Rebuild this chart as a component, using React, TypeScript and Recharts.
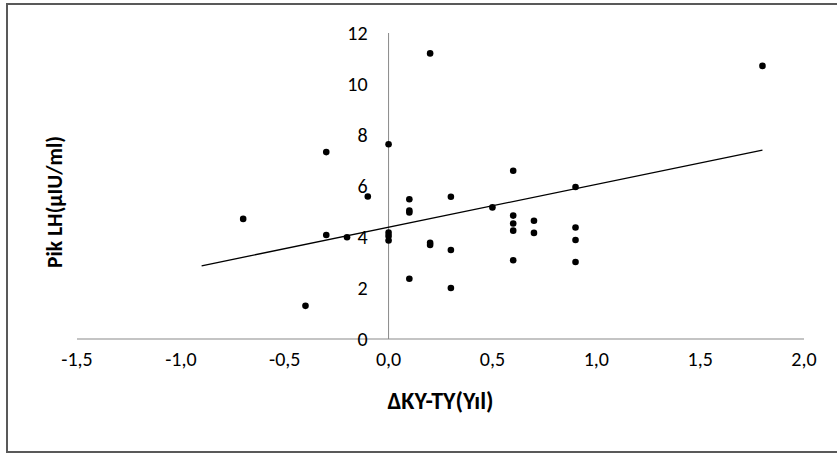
import React from "react"
import {
  ScatterChart,
  Scatter,
  XAxis,
  YAxis,
  ReferenceLine,
  ReferenceDot,
} from "recharts"

// ΔKY-TY (yıl) vs peak LH
const deltaYears = [
  -0.7, -0.4, -0.3, -0.3, -0.2, -0.1, 0, 0, 0, 0, 0.1, 0.1, 0.1, 0.1, 0.2, 0.2, 0.2,
  0.3, 0.3, 0.3, 0.5, 0.6, 0.6, 0.6, 0.6, 0.6, 0.7, 0.7, 0.9, 0.9, 0.9, 0.9, 1.8,
]
const peakLH = [
  4.71, 1.3, 7.33, 4.08, 3.99, 5.59, 7.64, 4.17, 4.04, 3.86, 5.48, 5.04, 4.96, 2.36, 11.2,
  3.77, 3.69, 5.58, 3.49, 2.0, 5.16, 6.6, 4.84, 4.53, 4.25, 3.09, 4.64, 4.16, 5.96, 4.37,
  3.88, 3.02, 10.71,
]

// linear trendline end points
const trendX = [-0.9, 1.8]
const trendY = [2.87, 7.41]

const xTicks = [-1.5, -1.0, -0.5, 0, 0.5, 1.0, 1.5, 2.0]
const yTicks = [0, 2, 4, 6, 8, 10, 12]

const points = deltaYears.map((x, i) => ({ x, y: peakLH[i] }))

const font = "Carlito, Calibri, Lato, sans-serif"
const axisGrey = "#898989"

const Dot = (props: any) => <circle cx={props.cx} cy={props.cy} r={3.3} fill="#000" />

export default function App() {
  return (
    <div
      style={{
        position: "absolute",
        left: 6,
        top: 3,
        width: 833,
        height: 450,
        border: "2px solid #595959",
        boxSizing: "border-box",
        background: "#fff",
      }}
    >
      <ScatterChart
        width={829}
        height={446}
        margin={{ top: 28, right: 33, left: 23, bottom: 32 }}
        style={{ fontFamily: font }}
      >
        <XAxis
          type="number"
          dataKey="x"
          domain={[-1.5, 2]}
          ticks={xTicks}
          tickFormatter={(v: number) => v.toFixed(1).replace(".", ",")}
          tickLine={false}
          tickSize={0}
          tickMargin={13}
          height={80}
          axisLine={{ stroke: axisGrey, strokeWidth: 1 }}
          tick={{ fill: "#000", fontSize: 20, fontFamily: font }}
          allowDataOverflow
          label={{
            value: "ΔKY-TY(Yıl)",
            position: "insideTop",
            offset: 53,
            fill: "#000",
            fontSize: 24,
            fontWeight: "bold",
            fontFamily: font,
          }}
        />
        <YAxis
          type="number"
          dataKey="y"
          domain={[0, 12]}
          ticks={yTicks}
          tick={false}
          tickLine={false}
          axisLine={false}
          width={46}
          allowDataOverflow
          label={{
            value: "Pik LH(µIU/ml)",
            position: "center",
            angle: -90,
            dy: 16,
            fill: "#000",
            fontSize: 21.5,
            fontWeight: "bold",
            fontFamily: font,
          }}
        />
        <ReferenceLine x={0} stroke={axisGrey} strokeWidth={1} />
        {yTicks.map((v) => (
          <ReferenceDot
            key={v}
            x={0}
            y={v}
            r={0}
            stroke="none"
            fill="none"
            label={{
              value: String(v),
              position: "left",
              offset: 21,
              fill: "#000",
              fontSize: 20,
              fontFamily: font,
            }}
          />
        ))}
        <ReferenceLine
          segment={[
            { x: trendX[0], y: trendY[0] },
            { x: trendX[1], y: trendY[1] },
          ]}
          stroke="#000"
          strokeWidth={1.3}
        />
        <Scatter data={points} shape={Dot} isAnimationActive={false} />
      </ScatterChart>
    </div>
  )
}
